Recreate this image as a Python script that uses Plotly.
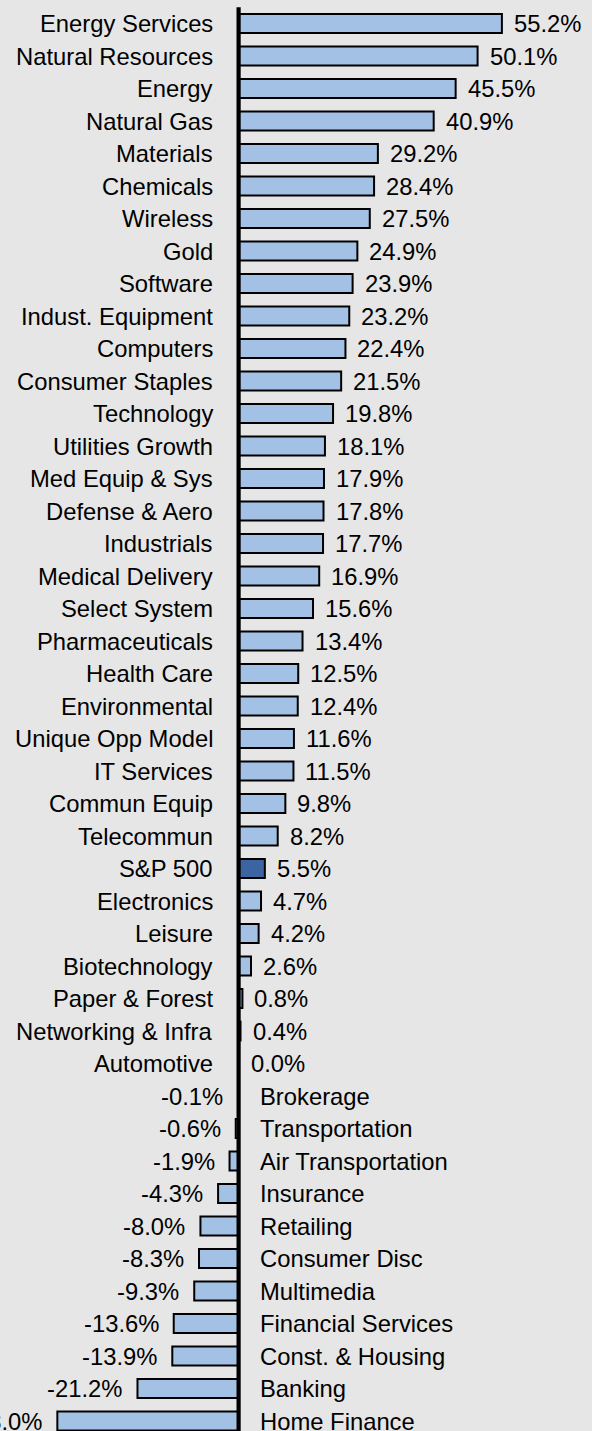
import plotly.graph_objects as go

categories = [
    "Energy Services", "Natural Resources", "Energy", "Natural Gas", "Materials",
    "Chemicals", "Wireless", "Gold", "Software", "Indust. Equipment", "Computers",
    "Consumer Staples", "Technology", "Utilities Growth", "Med Equip & Sys",
    "Defense & Aero", "Industrials", "Medical Delivery", "Select System",
    "Pharmaceuticals", "Health Care", "Environmental", "Unique Opp Model",
    "IT Services", "Commun Equip", "Telecommun", "S&P 500", "Electronics",
    "Leisure", "Biotechnology", "Paper & Forest", "Networking & Infra",
    "Automotive", "Brokerage", "Transportation", "Air Transportation",
    "Insurance", "Retailing", "Consumer Disc", "Multimedia",
    "Financial Services", "Const. & Housing", "Banking", "Home Finance",
]
values = [
    55.2, 50.1, 45.5, 40.9, 29.2, 28.4, 27.5, 24.9, 23.9, 23.2, 22.4,
    21.5, 19.8, 18.1, 17.9, 17.8, 17.7, 16.9, 15.6, 13.4, 12.5, 12.4, 11.6,
    11.5, 9.8, 8.2, 5.5, 4.7, 4.2, 2.6, 0.8, 0.4, 0.0, -0.1, -0.6, -1.9,
    -4.3, -8.0, -8.3, -9.3, -13.6, -13.9, -21.2, -38.0,
]
highlight = "S&P 500"

LIGHT = "#a3c1e5"
DARK = "#3c64a0"
BG = "#e6e6e6"
FONT = "Liberation Sans, Arial, sans-serif"
FS = 23.8

W, H = 592, 1431
px_per_unit = 4.77
zero_px = 238.6
row0_px = 23.5
row_px = 32.5

pos = list(range(len(categories)))
colors = [DARK if c == highlight else LIGHT for c in categories]

fig = go.Figure()
fig.add_trace(go.Bar(
    x=values, y=pos, orientation="h",
    marker=dict(color=colors, line=dict(color="black", width=2)),
    width=0.58, hoverinfo="skip",
))

ann = []
for i, (c, v) in enumerate(zip(categories, values)):
    if v >= 0:
        ann.append(dict(x=0, y=i, text=c, xanchor="right", xshift=-24,
                        showarrow=False, font=dict(family=FONT, size=FS, color="black")))
        ann.append(dict(x=v, y=i, text=f"{v:.1f}%", xanchor="left", xshift=10,
                        showarrow=False, font=dict(family=FONT, size=FS, color="black")))
    else:
        ann.append(dict(x=0, y=i, text=c, xanchor="left", xshift=19,
                        showarrow=False, font=dict(family=FONT, size=FS, color="black")))
        ann.append(dict(x=v, y=i, text=f"{v:.1f}%", xanchor="right", xshift=-13,
                        showarrow=False, font=dict(family=FONT, size=FS, color="black")))

xmin = -zero_px / px_per_unit
xmax = (W - zero_px) / px_per_unit
ytop = -row0_px / row_px
ybot = (H - row0_px) / row_px

fig.add_shape(type="line", x0=0, x1=0, y0=-0.5, y1=ybot + 1, xref="x", yref="y",
              line=dict(color="black", width=4.2), layer="above")

fig.update_layout(
    width=W, height=H, margin=dict(l=0, r=0, t=0, b=0),
    paper_bgcolor=BG, plot_bgcolor=BG, showlegend=False,
    annotations=ann,
    xaxis=dict(range=[xmin, xmax], visible=False, fixedrange=True),
    yaxis=dict(range=[ybot, ytop], visible=False, fixedrange=True),
)
fig.write_html(
    "out.html",
    config={"displayModeBar": False},
    post_script="document.body.style.margin='0';document.body.style.background='#e6e6e6';",
)
